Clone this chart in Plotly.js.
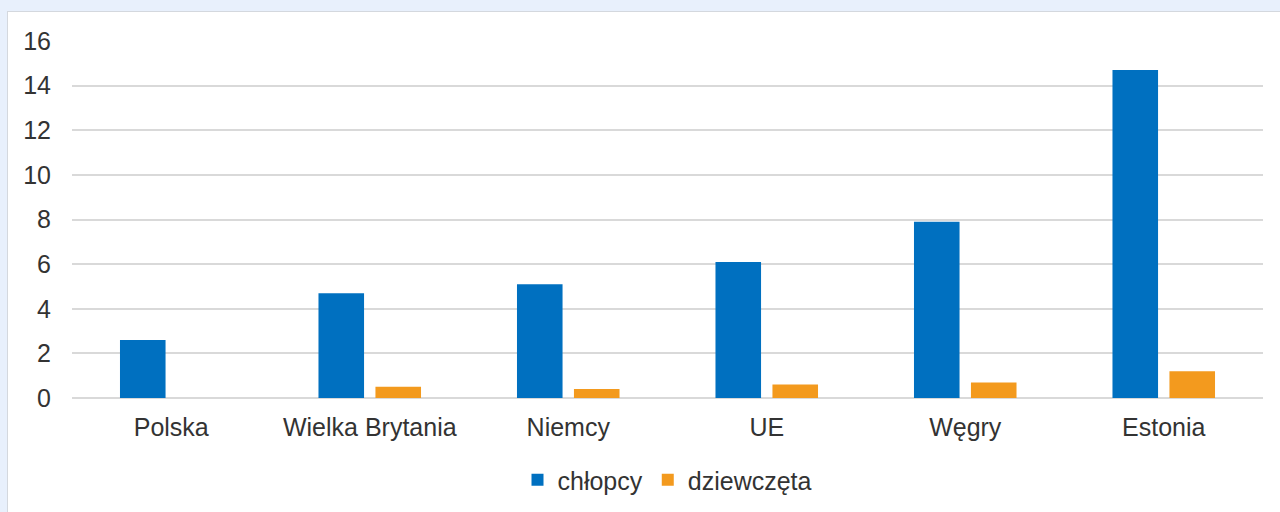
<!DOCTYPE html>
<html><head><meta charset="utf-8">
<script src="https://cdn.plot.ly/plotly-3.0.1.min.js"></script>
<style>
html,body{margin:0;padding:0;width:1280px;height:512px;overflow:hidden;background:#e8f0fc;}
#frame{position:absolute;left:7px;top:11px;width:1290px;height:520px;background:#fff;border:1px solid #d4d8de;}
#chart{position:absolute;left:8px;top:12px;width:1272px;height:530px;}
</style></head>
<body><div id="frame"></div><div id="chart"></div>
<script>
const categories = ["Polska", "Wielka Brytania", "Niemcy", "UE", "Węgry", "Estonia"];
const chlopcy = [2.6, 4.7, 5.1, 6.1, 7.9, 14.7];
const dziewczeta = [0, 0.5, 0.4, 0.6, 0.7, 1.2];
const yTicks = [0, 2, 4, 6, 8, 10, 12, 14, 16];

const font = {family: "Liberation Sans, Arial, sans-serif", size: 25, color: "#333333"};
const data = [
  {type: "bar", name: "chłopcy", x: categories, y: chlopcy, marker: {color: "#0070c0"}, hoverinfo: "y"},
  {type: "bar", name: "dziewczęta", x: categories, y: dziewczeta, marker: {color: "#f39a1e"}, hoverinfo: "y"}
];
const layout = {
  width: 1272, height: 530,
  margin: {l: 64, r: 17, t: 29, b: 144},
  paper_bgcolor: "rgba(0,0,0,0)", plot_bgcolor: "rgba(0,0,0,0)",
  barmode: "group", bargap: 0.426, bargroupgap: 0.2,
  font: font,
  showlegend: true,
  legend: {orientation: "h", x: 0.5, xanchor: "center", y: -0.23, yanchor: "middle", font: font, itemwidth: 30},
  xaxis: {type: "category", showgrid: false, zeroline: false, showline: false, ticks: "", tickfont: font, ticklabelstandoff: 12, automargin: false},
  yaxis: {range: [0, 16], tickvals: yTicks, ticktext: yTicks.map(String), showgrid: true, gridcolor: "#d9d9d9", gridwidth: 2,
          zeroline: true, zerolinecolor: "#d9d9d9", zerolinewidth: 2, showline: false, ticks: "", tickfont: font, ticklabelstandoff: 20, automargin: false}
};
Plotly.newPlot("chart", data, layout, {displayModeBar: false, staticPlot: true});
</script></body></html>
